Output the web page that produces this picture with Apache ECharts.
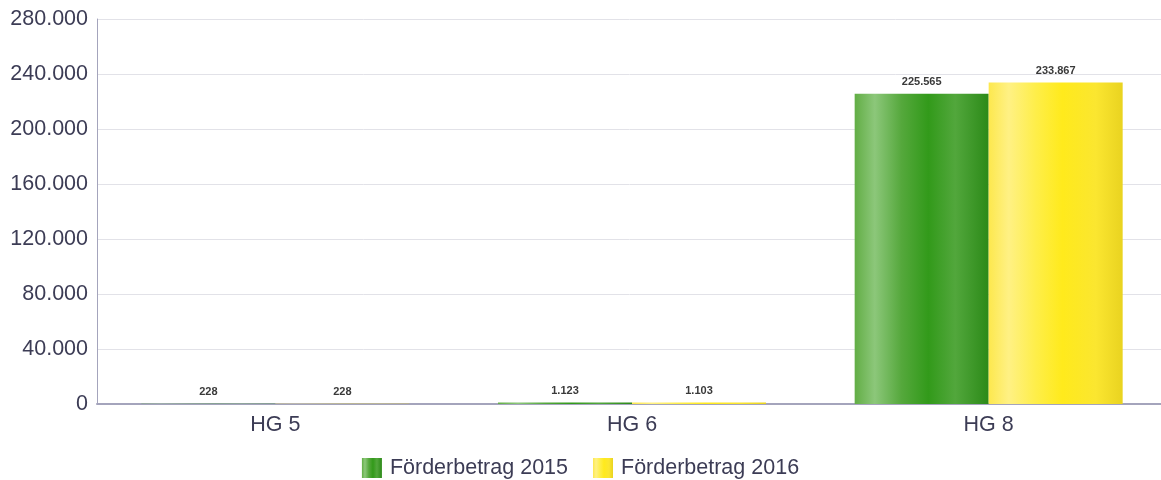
<!DOCTYPE html>
<html>
<head>
    <meta charset="utf-8" />
    <title>Förderbetrag</title>
    <script src="https://cdn.jsdelivr.net/npm/echarts@6/dist/echarts.min.js"></script>
</head>
<body style="margin:0">
    <div id="main" style="width:1161px;height:480px;"></div>
    <script type="text/javascript">
    var categories = ['HG 5', 'HG 6', 'HG 8'];
    var values2015 = [228, 1123, 225565];
    var values2016 = [228, 1103, 233867];
    var yTicks = [0, 40000, 80000, 120000, 160000, 200000, 240000, 280000];

    // Zahlen mit Punkt als Tausendertrenner
    function fmt(v) {
        return String(v).replace(/\B(?=(\d{3})+(?!\d))/g, '.');
    }

    var greenFill = new echarts.graphic.LinearGradient(0, 0, 1, 0, [
        { offset: 0, color: '#62ae45' },
        { offset: 0.15, color: '#8cc77a' },
        { offset: 0.35, color: '#55a83c' },
        { offset: 0.55, color: '#329a1a' },
        { offset: 0.75, color: '#52a73c' },
        { offset: 1, color: '#2c8a18' }
    ]);
    var yellowFill = new echarts.graphic.LinearGradient(0, 0, 1, 0, [
        { offset: 0, color: '#fde84e' },
        { offset: 0.15, color: '#fff184' },
        { offset: 0.35, color: '#feee4a' },
        { offset: 0.55, color: '#ffea1c' },
        { offset: 0.8, color: '#fbe630' },
        { offset: 1, color: '#e9d320' }
    ]);

    var myChart = echarts.init(document.getElementById('main'));
    var option = {
        animation: false,
        textStyle: { fontFamily: 'Liberation Sans, Arial, sans-serif' },
        grid: { left: 97, top: 19, width: 1070, height: 385, outerBoundsMode: 'none', containLabel: false },
        legend: {
            top: 452,
            left: 'center',
            itemWidth: 20,
            itemHeight: 20,
            itemGap: 25,
            textStyle: { fontSize: 21.5, color: '#3c3c55', padding: [0, 0, 0, 3] },
            data: [
                { name: 'Förderbetrag 2015', icon: 'rect' },
                { name: 'Förderbetrag 2016', icon: 'rect' }
            ]
        },
        xAxis: {
            type: 'category',
            data: categories,
            axisLine: { lineStyle: { color: '#a4a4bc', width: 2 } },
            axisTick: { show: false },
            axisLabel: { fontSize: 21.5, color: '#3c3c55', margin: 10 }
        },
        yAxis: {
            type: 'value',
            min: 0,
            max: 280000,
            interval: 40000,
            axisLine: { show: true, lineStyle: { color: '#a4a4bc', width: 1 } },
            axisTick: { show: false },
            splitLine: { lineStyle: { color: '#e2e2e8' } },
            axisLabel: {
                fontSize: 21.5,
                color: '#3c3c55',
                margin: 9,
                formatter: function (v) { return fmt(v); }
            }
        },
        series: [
            {
                name: 'Förderbetrag 2015',
                type: 'bar',
                data: values2015,
                barWidth: 134,
                barGap: '0%',
                itemStyle: { color: greenFill },
                label: {
                    show: true,
                    position: 'top',
                    distance: 6,
                    fontSize: 11,
                    fontWeight: 'bold',
                    color: '#3a3a3a',
                    formatter: function (p) { return fmt(p.value); }
                }
            },
            {
                name: 'Förderbetrag 2016',
                type: 'bar',
                data: values2016,
                barWidth: 134,
                barGap: '0%',
                itemStyle: { color: yellowFill },
                label: {
                    show: true,
                    position: 'top',
                    distance: 6,
                    fontSize: 11,
                    fontWeight: 'bold',
                    color: '#3a3a3a',
                    formatter: function (p) { return fmt(p.value); }
                }
            }
        ]
    };
    myChart.setOption(option);
    </script>
</body>
</html>
